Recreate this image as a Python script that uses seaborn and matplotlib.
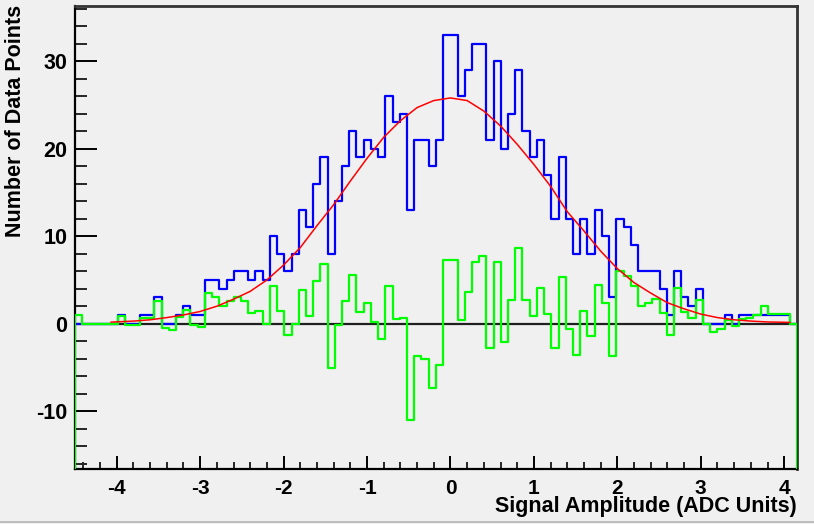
import numpy as np
import pandas as pd
import seaborn as sns
import matplotlib.pyplot as plt
from matplotlib.ticker import MultipleLocator

# binning of the histograms (100 bins over the whole axis)
x_lo, x_hi, n_bins = -4.5, 4.15, 100
y_lo, y_hi = -16.6, 36.25

# measured signal, counts per bin
signal_counts = [0, 0, 0, 0, 0, 0, 1, 0, 0, 1,
                 1, 3, 0, 0, 1, 2, 1, 1, 5, 5,
                 4, 5, 6, 6, 5, 6, 5, 10, 8, 6,
                 8, 13, 11, 16, 19, 8, 14, 18, 22, 19,
                 21, 20, 19, 26, 23, 24, 13, 21, 21, 18,
                 21, 33, 33, 26, 29, 32, 32, 21, 30, 20,
                 24, 29, 22, 19, 21, 17, 12, 19, 12, 8,
                 12, 8, 13, 10, 3, 12, 11, 9, 6, 6,
                 6, 4, 1, 6, 3, 2, 4, 0, 0, 0,
                 1, 0, 1, 1, 1, 1, 1, 1, 1, 0]

# data minus fit, per bin
residuals = [1.0, 0, 0, 0, 0, 0, 0.85, -0.2, -0.2, 0.7,
             0.7, 2.6, -0.5, -0.7, 0.8, 1.6, -0.1, -0.4, 3.5, 3.1,
             2.0, 2.6, 3.0, 2.6, 1.2, 1.4, 0, 4.3, 1.5, -1.3,
             0, 3.9, 0.9, 4.9, 6.8, -5.1, -0.1, 2.6, 5.6, 1.3,
             2.4, 0.2, -1.7, 4.3, 0.5, 0.6, -11.0, -3.7, -4.0, -7.4,
             -4.7, 7.3, 7.3, 0.4, 3.6, 7.0, 7.7, -2.8, 7.0, -2.1,
             2.7, 8.7, 2.7, 0.9, 4.1, 1.1, -2.8, 5.3, -0.6, -3.6,
             1.5, -1.45, 4.45, 2.4, -3.7, 6.0, 5.5, 4.3, 2.0, 2.4,
             2.8, 1.2, -1.3, 4.1, 1.3, 0.7, 2.7, 0, -0.9, -0.6,
             0.4, -0.3, 0.5, 0.7, 1.0, 2.0, 1.1, 1.1, 1.1, 0]

# gaussian fit curve
fit_x = [-4.07, -3.8, -3.6, -3.4, -3.2, -3.0, -2.8, -2.6, -2.4, -2.2,
         -2.0, -1.8, -1.6, -1.4, -1.2, -1.0, -0.8, -0.6, -0.4, -0.2,
         0.0, 0.2, 0.4, 0.6, 0.8, 1.0, 1.2, 1.4, 1.6, 1.8,
         2.0, 2.2, 2.4, 2.6, 2.8, 3.0, 3.2, 3.4, 3.6, 3.8, 4.07]
fit_y = [0.18, 0.3, 0.45, 0.7, 1.0, 1.4, 2.0, 2.8, 3.7, 5.0,
         6.7, 8.7, 11.2, 13.6, 16.3, 18.9, 21.3, 23.2, 24.7, 25.5,
         25.8, 25.5, 24.3, 22.6, 20.5, 18.2, 15.7, 12.8, 10.6, 8.3,
         6.3, 4.7, 3.5, 2.4, 1.7, 1.1, 0.7, 0.45, 0.3, 0.2, 0.15]

edges = np.linspace(x_lo, x_hi, n_bins + 1)
centers = (edges[:-1] + edges[1:]) / 2
df = pd.DataFrame({"amp": centers, "signal": signal_counts, "resid": residuals})
df_fit = pd.DataFrame({"amp": fit_x, "fit": fit_y})

sns.set_theme(style="white")
bg = "#f0f0f0"
green = "#00ff00"
plt.rcParams["font.family"] = ["Liberation Sans", "DejaVu Sans"]
plt.rcParams["font.weight"] = "bold"
plt.rcParams["axes.unicode_minus"] = False
plt.rcParams["text.color"] = "black"
plt.rcParams["axes.labelcolor"] = "black"

fig, ax = plt.subplots(figsize=(8.14, 5.24), dpi=100)
fig.patch.set_facecolor(bg)
ax.set_facecolor(bg)
fig.subplots_adjust(left=0.0921, right=0.9788, bottom=0.105, top=0.9876)

ax.axhline(0, color="#202020", linewidth=1.6, zorder=1)
sns.histplot(data=df, x="amp", weights="signal", bins=n_bins, binrange=(x_lo, x_hi),
             element="step", fill=False, color="#0000ff", linewidth=1.6, ax=ax, zorder=2)
sns.histplot(data=df, x="amp", weights="resid", bins=n_bins, binrange=(x_lo, x_hi),
             element="step", fill=False, color=green, linewidth=1.6, ax=ax, zorder=3)
# root draws the outer edges of the histogram down to the frame
ax.vlines([edges[0]], y_lo, residuals[0], color=green, linewidth=1.6, zorder=3)
ax.vlines([edges[-1]], y_lo, residuals[-1], color=green, linewidth=1.6, zorder=3)
sns.lineplot(data=df_fit, x="amp", y="fit", color="#ff0000", linewidth=1.1, ax=ax, zorder=4)

ax.set_xlim(x_lo, x_hi)
ax.set_ylim(y_lo, y_hi)

ax.xaxis.set_major_locator(MultipleLocator(1))
ax.xaxis.set_minor_locator(MultipleLocator(0.2))
ax.yaxis.set_major_locator(MultipleLocator(10))
ax.yaxis.set_minor_locator(MultipleLocator(2))
ax.tick_params(axis="x", which="major", direction="in", length=9.5, width=1.4,
               labelsize=15, pad=7, colors="black")
ax.tick_params(axis="x", which="minor", direction="in", length=5, width=1.4)
ax.tick_params(axis="y", which="major", direction="in", length=16, width=1.4,
               labelsize=15.5, pad=5.5, colors="black")
ax.tick_params(axis="y", which="minor", direction="in", length=8.5, width=1.4)
ax.tick_params(bottom=True, left=True, top=False, right=False)
ax.tick_params(which="minor", bottom=True, left=True, top=False, right=False)

for side in ["left", "bottom"]:
    ax.spines[side].set_color("black")
    ax.spines[side].set_linewidth(1.6)
for side in ["top", "right"]:
    ax.spines[side].set_color("#333333")
    ax.spines[side].set_linewidth(2)

ax.set_xlabel("Signal Amplitude (ADC Units)", fontsize=15.5, fontweight="bold",
              loc="right", color="black")
ax.xaxis.set_label_coords(1.0, -0.059)
ax.set_ylabel("Number of Data Points", fontsize=15.5, fontweight="bold",
              loc="top", color="black")
ax.yaxis.set_label_coords(-0.068, 1.004)

# thin grey edge along the bottom of the canvas
fig.add_artist(plt.Line2D([0, 1], [0.003, 0.003], transform=fig.transFigure,
                          color="#b4b4b4", linewidth=1.2))

fig.savefig("out.png", dpi=100, facecolor=bg)
